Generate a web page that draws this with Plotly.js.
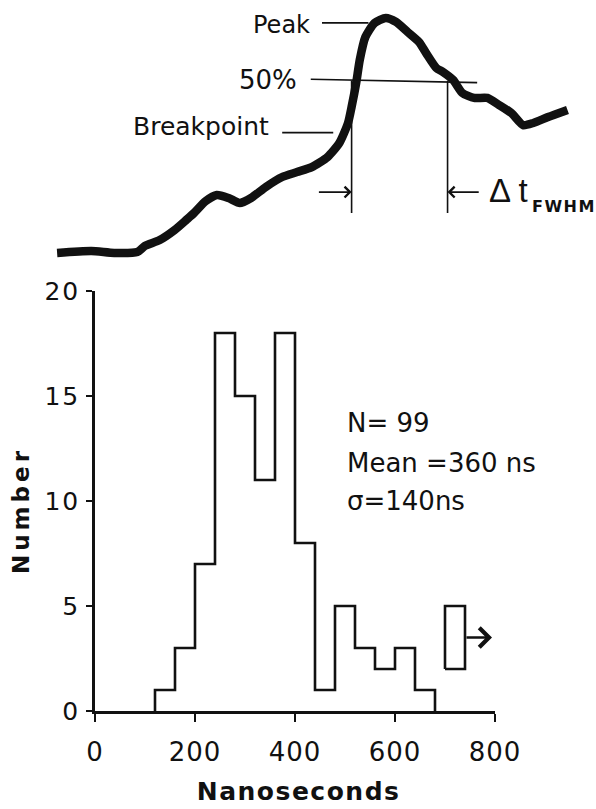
<!DOCTYPE html>
<html><head><meta charset="utf-8">
<script src="https://cdn.plot.ly/plotly-3.0.1.min.js"></script>
<style>
html,body{margin:0;padding:0;background:#fff}
#chart{width:596px;height:809px}
.ytick text{letter-spacing:2px}
.xtick text{letter-spacing:1px}
.annotation[data-index="0"] text{letter-spacing:1.5px}
.annotation[data-index="1"] text{letter-spacing:4px}
.annotation[data-index="9"] text{letter-spacing:1.5px}
</style>
</head><body><div id="chart"></div>
<script>
// ---- Histogram data (rise-time distribution) ----
const binEdges  = [120,160,200,240,280,320,360,400,440,480,520,560,600,640,680];
const binCounts = [1,3,7,18,15,11,18,8,1,5,3,2,3,1];
const overflowBin = [700,740];
const overflowBase = 2;
const overflowCount = 3;
const overflowArrowEnd = 794;
const xTicks = [0,200,400,600,800];
const yTicks = [0,5,10,15,20];
const statsLines = ["N= 99","Mean =360 ns","σ=140ns"];
const xTitle = "Nanoseconds";
const yTitle = "Number";

// ---- Schematic pulse (arbitrary time units, amplitude in % of peak) ----
const pulseTime = [0,6.7,11.2,15.7,17.2,20.1,23.0,25.3,26.8,29.1,31.3,33.6,35.8,38.0,40.9,44.1,47.0,49.9,53.0,55.3,57.0,57.7,58.6,59.3,60.4,62.2,64.4,66.4,68.7,70.9,72.3,74.3,75.6,77.6,79.4,81.7,84.3,86.6,89.0,91.3,93.3,96.2,100];
const pulseAmp  = [0,0.8,0,0.4,3.0,5.5,9.7,14.0,16.9,22.0,24.6,23.3,21.2,23.3,28.0,32.2,34.3,36.4,40.7,46.6,55.1,61.9,72.0,81.8,91.5,97.5,99.6,97.9,93.6,89.4,84.7,78.4,76.7,73.3,67.8,65.7,65.7,62.7,59.3,54.2,55.1,57.6,60.6];
const peakLevel = 97.5;
const halfLevel = 73;
const breakLevel = 51;
const fwhmStart = 57.7;
const fwhmEnd = 76.5;
const markerBottom = 17;
const arrowLevel = 25.8;

const W = 596, H = 809;
const fx = px => px / W;
const fy = py => 1 - py / H;
const ink = '#111';

// histogram outline
const histX = [binEdges[0]].concat(binEdges);
const histY = [0].concat(binCounts).concat([0]);
const boxX = [overflowBin[0], overflowBin[0], overflowBin[1], overflowBin[1], overflowBin[0]];
const boxTop = overflowBase + overflowCount;
const boxY = [overflowBase, boxTop, boxTop, overflowBase, overflowBase];

const traces = [
  {x: histX, y: histY, type: 'scatter', mode: 'lines', line: {shape: 'hv', color: ink, width: 2.6}, hoverinfo: 'skip', xaxis: 'x', yaxis: 'y'},
  {x: boxX, y: boxY, type: 'scatter', mode: 'lines', line: {color: ink, width: 2.6}, hoverinfo: 'skip', xaxis: 'x', yaxis: 'y'},
  {x: pulseTime, y: pulseAmp, type: 'scatter', mode: 'lines', line: {shape: 'spline', smoothing: 0.6, color: ink, width: 8.5}, hoverinfo: 'skip', xaxis: 'x2', yaxis: 'y2'}
];

const fontTxt = 'DejaVu Sans, Liberation Sans, sans-serif';
const annotations = [
  {text: xTitle, xref: 'paper', yref: 'paper', x: fx(298), y: fy(791), showarrow: false, font: {family: fontTxt, size: 25, color: ink, weight: 'bold'}, xanchor: 'center', yanchor: 'middle'},
  {text: yTitle, xref: 'paper', yref: 'paper', x: fx(21), y: fy(510), showarrow: false, textangle: -90, font: {family: fontTxt, size: 23, color: ink, weight: 'bold'}, xanchor: 'center', yanchor: 'middle'},
  {text: statsLines[0], xref: 'x', yref: 'y', x: 500, y: 13.7, showarrow: false, font: {family: fontTxt, size: 26, color: ink}, xanchor: 'left', yanchor: 'middle'},
  {text: statsLines[1], xref: 'x', yref: 'y', x: 500, y: 11.8, showarrow: false, font: {family: fontTxt, size: 26, color: ink}, xanchor: 'left', yanchor: 'middle'},
  {text: statsLines[2], xref: 'x', yref: 'y', x: 500, y: 10.0, showarrow: false, font: {family: fontTxt, size: 26, color: ink}, xanchor: 'left', yanchor: 'middle'},
  {text: '', xref: 'x', yref: 'y', axref: 'x', ayref: 'y', x: overflowArrowEnd, y: overflowBase + overflowCount / 2, ax: overflowBin[1], ay: overflowBase + overflowCount / 2, showarrow: true, arrowhead: 4, arrowsize: 1.5, arrowwidth: 2.5, arrowcolor: ink},
  {text: 'Peak', xref: 'x2', yref: 'y2', x: 49.9, y: 96.6, showarrow: false, font: {family: fontTxt, size: 24, color: ink}, xanchor: 'right', yanchor: 'middle'},
  {text: '50%', xref: 'x2', yref: 'y2', x: 47.4, y: 73.3, showarrow: false, font: {family: fontTxt, size: 26, color: ink}, xanchor: 'right', yanchor: 'middle'},
  {text: 'Breakpoint', xref: 'x2', yref: 'y2', x: 42, y: 53.4, showarrow: false, font: {family: fontTxt, size: 25, color: ink}, xanchor: 'right', yanchor: 'middle'},
  {text: 'FWHM', xref: 'x2', yref: 'y2', x: 93.3, y: 19.9, showarrow: false, font: {family: fontTxt, size: 16, color: ink, weight: 'bold'}, xanchor: 'left', yanchor: 'middle'},
  {text: 'Δ t', xref: 'x2', yref: 'y2', x: 84.3, y: 26.5, showarrow: false, font: {family: 'Liberation Sans, sans-serif', size: 33, color: ink}, xanchor: 'left', yanchor: 'middle'},
  {text: '', xref: 'x2', yref: 'y2', axref: 'x2', ayref: 'y2', x: fwhmStart, y: arrowLevel, ax: 51, ay: arrowLevel, showarrow: true, arrowhead: 4, arrowsize: 1.3, arrowwidth: 1.6, arrowcolor: ink},
  {text: '', xref: 'x2', yref: 'y2', axref: 'x2', ayref: 'y2', x: fwhmEnd, y: arrowLevel, ax: 82.9, ay: arrowLevel, showarrow: true, arrowhead: 4, arrowsize: 1.3, arrowwidth: 1.6, arrowcolor: ink}
];

const shapes = [
  {type: 'line', xref: 'x2', yref: 'y2', x0: 51.9, x1: 61, y0: peakLevel, y1: peakLevel, line: {color: ink, width: 1.6}},
  {type: 'line', xref: 'x2', yref: 'y2', x0: 49.7, x1: 82.3, y0: halfLevel + 0.6, y1: halfLevel - 0.8, line: {color: ink, width: 1.6}},
  {type: 'line', xref: 'x2', yref: 'y2', x0: 44.1, x1: 54.1, y0: breakLevel, y1: breakLevel, line: {color: ink, width: 1.6}},
  {type: 'line', xref: 'x2', yref: 'y2', x0: fwhmStart, x1: fwhmStart, y0: halfLevel, y1: markerBottom, line: {color: ink, width: 1.6}},
  {type: 'line', xref: 'x2', yref: 'y2', x0: fwhmEnd, x1: fwhmEnd, y0: halfLevel, y1: markerBottom, line: {color: ink, width: 1.6}}
];

const layout = {
  width: W, height: H,
  margin: {l: 0, r: 0, t: 0, b: 0},
  paper_bgcolor: '#fff', plot_bgcolor: 'rgba(0,0,0,0)',
  showlegend: false,
  xaxis: {
    domain: [fx(95), fx(495)], range: [0, 800], tickvals: xTicks, ticktext: xTicks.map(String),
    showline: true, linecolor: ink, linewidth: 2.8, ticks: 'outside', ticklen: 8, tickwidth: 2.5, tickcolor: ink,
    showgrid: false, zeroline: false, ticklabelstandoff: 8,
    tickfont: {family: fontTxt, size: 26, color: ink}, fixedrange: true
  },
  yaxis: {
    domain: [fy(711), fy(291)], range: [0, 20], tickvals: yTicks, ticktext: yTicks.map(String),
    showline: true, linecolor: ink, linewidth: 2.8, ticks: 'outside', ticklen: 6, tickwidth: 2.5, tickcolor: ink,
    showgrid: false, zeroline: false, ticklabelstandoff: 1,
    tickfont: {family: fontTxt, size: 25, color: ink}, fixedrange: true
  },
  xaxis2: {domain: [fx(57.1 - 5 * 5.104), fx(567.5 + 5 * 5.104)], range: [-5, 105], visible: false, fixedrange: true},
  yaxis2: {domain: [fy(253 + 5 * 2.36), fy(17 - 5 * 2.36)], range: [-5, 105], visible: false, fixedrange: true},
  annotations: annotations,
  shapes: shapes
};

Plotly.newPlot('chart', traces, layout, {displayModeBar: false, staticPlot: true});
</script>
</body></html>
